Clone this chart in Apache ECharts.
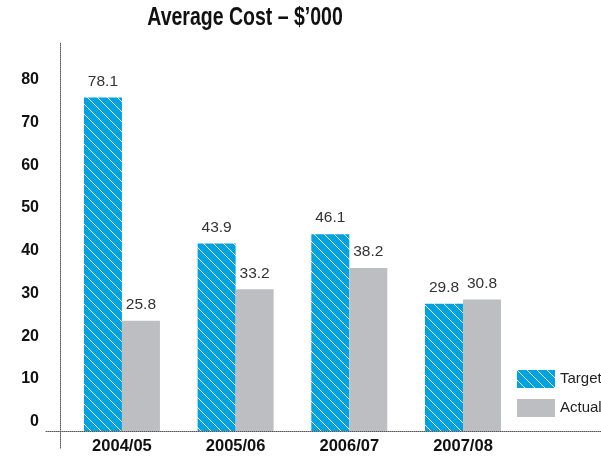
<!DOCTYPE html>
<html>
<head>
<meta charset="utf-8">
<script src="https://cdn.jsdelivr.net/npm/echarts@6/dist/echarts.min.js"></script>
<style>
	html, body { margin: 0; padding: 0; background: #fff; }
	#main { width: 601px; height: 457px; }
</style>
</head>
<body>
<div id="main"></div>
<script>
	var categories = ['2004/05', '2005/06', '2006/07', '2007/08'];
	var targetValues = [78.1, 43.9, 46.1, 29.8];
	var actualValues = [25.8, 33.2, 38.2, 30.8];
	var yTicks = [0, 10, 20, 30, 40, 50, 60, 70, 80];

	var sans = "'Liberation Sans', Arial, sans-serif";

	// blue fill with white "\" hatch lines
	function hatch() {
		var c = document.createElement('canvas');
		c.width = 10;
		c.height = 10;
		var ctx = c.getContext('2d');
		ctx.fillStyle = '#00a3e0';
		ctx.fillRect(0, 0, 10, 10);
		ctx.fillStyle = '#ffffff';
		for (var i = 0; i < 10; i++) {
			ctx.fillRect(i, i, 1, 1);
		}
		return { image: c, repeat: 'repeat' };
	}

	var chart = echarts.init(document.getElementById('main'), null, { renderer: 'canvas' });

	var valueLabel = {
		show: true,
		position: 'top',
		distance: 8,
		fontFamily: sans,
		fontSize: 15.5,
		color: '#333',
		formatter: function (p) { return p.value[1].toFixed(1); }
	};

	var option = {
		animation: false,
		// condensed bold title (no narrow font installed, so squeeze it)
		graphic: [{
			type: 'text',
			x: 245,
			y: 6,
			scaleX: 0.78,
			style: {
				text: 'Average Cost – $’000',
				font: 'bold 25px ' + sans,
				fill: '#111',
				textAlign: 'center',
				textVerticalAlign: 'top'
			}
		}],
		legend: {
			orient: 'vertical',
			left: 512,
			top: 365,
			itemWidth: 38,
			itemHeight: 18,
			itemGap: 11,
			icon: 'rect',
			textStyle: {
				fontFamily: sans,
				fontSize: 15,
				color: '#222'
			},
			data: ['Target', 'Actual']
		},
		grid: {
			left: 46,
			right: 0,
			top: 42.4,
			bottom: 8.9,
			outerBoundsMode: 'none',
			containLabel: false
		},
		xAxis: {
			type: 'value',
			min: -0.668,
			max: 4.214,
			splitLine: { show: false },
			axisTick: { show: false },
			axisLine: {
				onZero: true,
				lineStyle: { color: '#555', type: 'dotted', width: 1 }
			},
			axisLabel: {
				customValues: [0, 1, 2, 3],
				formatter: function (v) { return categories[v]; },
				margin: -10,
				fontFamily: sans,
				fontWeight: 'bold',
				fontSize: 16.5,
				color: '#111'
			}
		},
		yAxis: {
			type: 'value',
			min: -4,
			max: 91,
			offset: -14,
			splitLine: { show: false },
			axisTick: { show: false },
			axisLine: {
				show: true,
				onZero: false,
				lineStyle: { color: '#555', type: 'dotted', width: 1 }
			},
			axisLabel: {
				customValues: yTicks,
				margin: 21,
				verticalAlign: 'bottom',
				lineHeight: 19,
				fontFamily: sans,
				fontWeight: 'bold',
				fontSize: 16,
				color: '#111'
			}
		},
		series: [
			{
				name: 'Target',
				type: 'bar',
				barWidth: 38,
				barGap: '0%',
				itemStyle: { color: hatch() },
				label: valueLabel,
				data: targetValues.map(function (v, i) { return [i, v]; })
			},
			{
				name: 'Actual',
				type: 'bar',
				barWidth: 38,
				barGap: '0%',
				itemStyle: { color: '#bdbec2' },
				label: valueLabel,
				data: actualValues.map(function (v, i) { return [i, v]; })
			}
		]
	};

	chart.setOption(option);
	window.addEventListener('resize', function () {
		chart.resize();
	});
</script>
</body>
</html>
